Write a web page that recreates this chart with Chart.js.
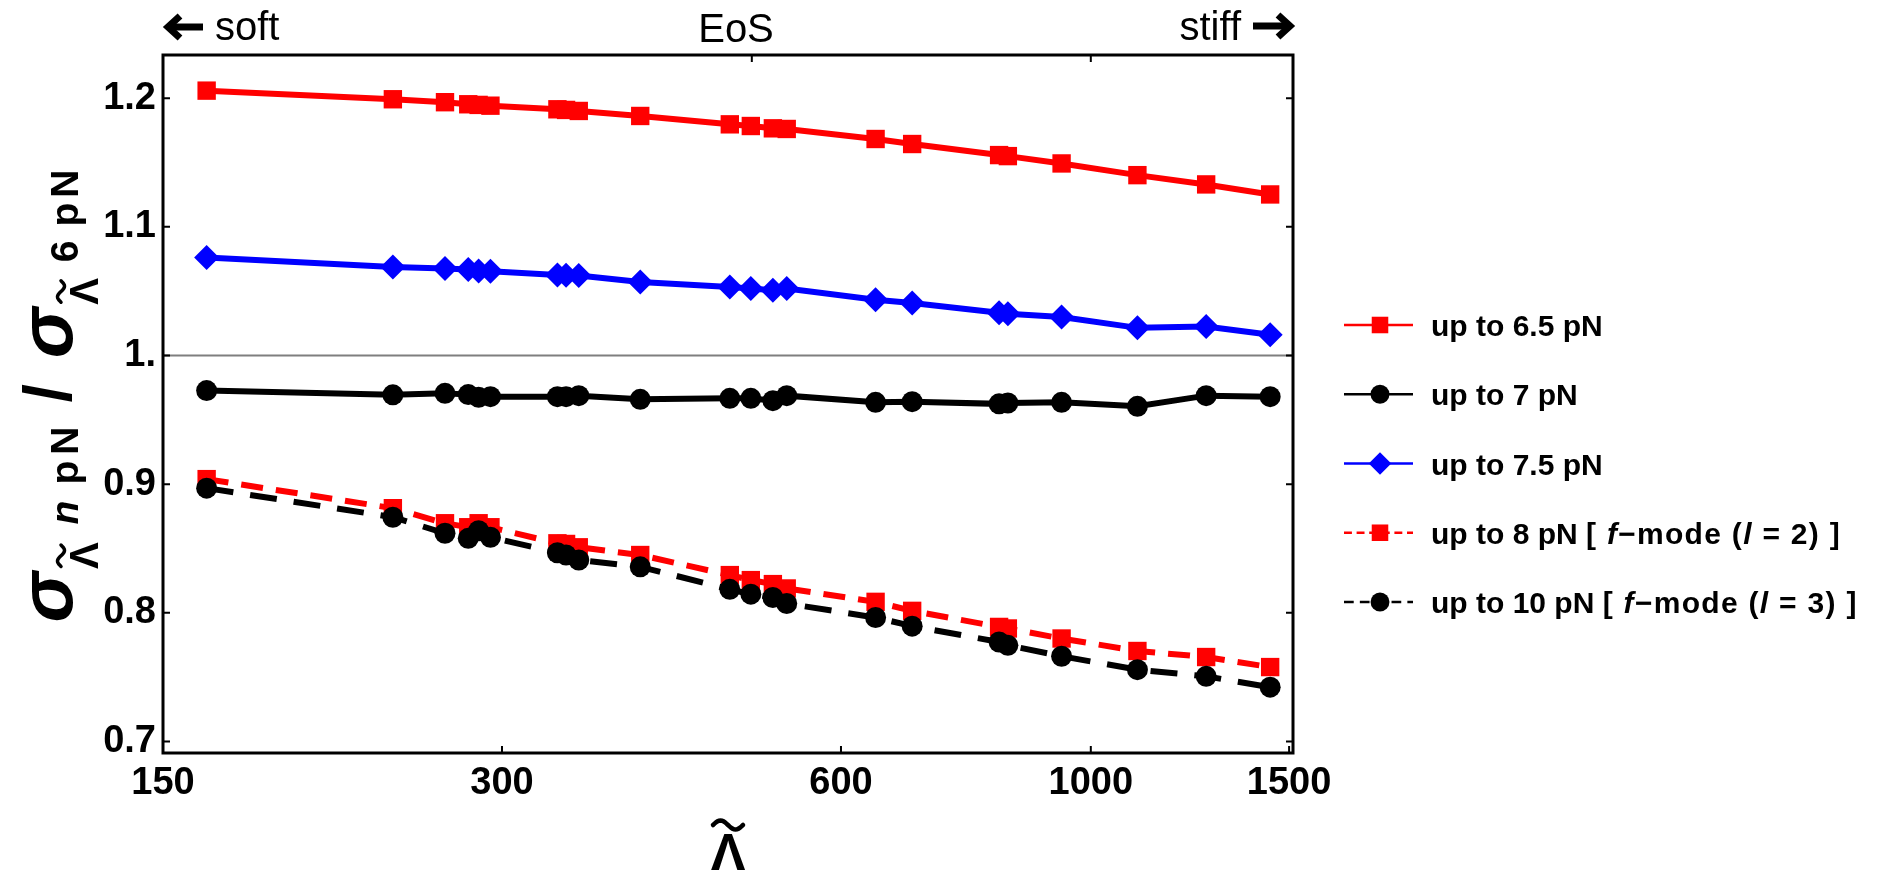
<!DOCTYPE html>
<html>
<head>
<meta charset="utf-8">
<script src="https://cdn.jsdelivr.net/npm/chart.js@4.4.1/dist/chart.umd.min.js"></script>
<style>
  html, body { margin: 0; padding: 0; background: #fff; }
  #wrap { width: 1893px; height: 876px; }
</style>
</head>
<body>
<div id="wrap"><canvas id="chart"></canvas></div>
<script>
// Data (x axis is log scale)
const lambdaVals = [164, 240, 267, 280, 286, 293, 336, 342, 351, 398, 478, 499, 522, 537, 644, 694, 829, 844, 942, 1100, 1266, 1443];
const upTo65 = [1.2059, 1.1992, 1.1969, 1.1953, 1.1948, 1.1942, 1.1914, 1.1909, 1.1901, 1.1862, 1.1797, 1.1784, 1.1766, 1.1761, 1.1683, 1.1644, 1.1558, 1.1550, 1.1493, 1.1402, 1.1330, 1.1252];
const upTo7 = [0.9727, 0.9694, 0.9706, 0.9696, 0.9675, 0.9680, 0.9680, 0.9680, 0.9688, 0.9659, 0.9667, 0.9667, 0.9649, 0.9688, 0.9636, 0.9641, 0.9624, 0.9631, 0.9636, 0.9605, 0.9688, 0.9680];
const upTo75 = [1.0762, 1.0688, 1.0676, 1.0668, 1.0657, 1.0655, 1.0626, 1.0624, 1.0622, 1.0571, 1.0532, 1.0520, 1.0507, 1.0520, 1.0434, 1.0408, 1.0333, 1.0325, 1.0299, 1.0215, 1.0226, 1.0161];
const upTo8 = [0.9039, 0.8813, 0.8696, 0.8665, 0.8696, 0.8665, 0.8540, 0.8535, 0.8509, 0.8449, 0.8293, 0.8254, 0.8223, 0.8189, 0.8085, 0.8015, 0.7890, 0.7878, 0.7800, 0.7703, 0.7656, 0.7578];
const upTo10 = [0.8969, 0.8743, 0.8618, 0.8579, 0.8638, 0.8587, 0.8467, 0.8449, 0.8410, 0.8357, 0.8182, 0.8145, 0.8119, 0.8072, 0.7963, 0.7896, 0.7773, 0.7747, 0.7662, 0.7558, 0.7506, 0.7422];

const seriesLabels = ['up to 6.5 pN', 'up to 7 pN', 'up to 7.5 pN', 'up to 8 pN [ f\u2212mode (l = 2) ]', 'up to 10 pN [ f\u2212mode (l = 3) ]'];
const xTicks = [150, 300, 600, 1000, 1500];
const xTopTicks = [500, 1000];
const yTicks = [0.7, 0.8, 0.9, 1.0, 1.1, 1.2];
const refLine = 1.0;

const FONT = "'Liberation Sans', Arial, Helvetica, sans-serif";

function pts(ys) {
    return ys.map((y, i) => ({ x: lambdaVals[i], y: y }));
}

function series(label, ys, color, style, radius, dash, order) {
    return {
        label: label,
        data: pts(ys),
        borderColor: color,
        backgroundColor: color,
        pointBackgroundColor: color,
        pointBorderColor: color,
        pointBorderWidth: 0,
        pointStyle: style,
        pointRadius: radius,
        borderWidth: 6,
        borderDash: dash,
        tension: 0,
        order: order
    };
}

const datasets = [
    series(seriesLabels[0], upTo65, '#ff0000', 'rect', 13, [], 4),
    series(seriesLabels[1], upTo7, '#000000', 'circle', 10.5, [], 3),
    series(seriesLabels[2], upTo75, '#0000ff', 'rectRot', 12.5, [], 2),
    series(seriesLabels[3], upTo8, '#ff0000', 'rect', 13, [22, 13], 1),
    series(seriesLabels[4], upTo10, '#000000', 'circle', 10.5, [27, 17], 0)
];

function drawTilde(ctx, cx, cy, w, amp, lw) {
    ctx.save();
    ctx.lineWidth = lw;
    ctx.lineCap = 'round';
    ctx.beginPath();
    for (let t = 0; t <= 1.0001; t += 0.05) {
        const px = cx - w / 2 + t * w;
        const py = cy - amp * Math.sin(2 * Math.PI * t);
        if (t === 0) ctx.moveTo(px, py); else ctx.lineTo(px, py);
    }
    ctx.stroke();
    ctx.restore();
}

function drawYLabel(ctx, cx, cy) {
    const sig = 'italic bold 76px ' + FONT;
    const lam = 'bold 40px ' + FONT;
    const txt = 'bold 39px ' + FONT;
    const txtIt = 'italic bold 39px ' + FONT;
    const parts = [
        { t: '\u03C3', f: sig, dy: 0, gap: 0 },
        { t: '\u039B', f: lam, dy: 26, gap: 3, tilde: true },
        { t: 'n', f: txtIt, dy: 6, gap: 18 },
        { t: 'p', f: txt, dy: 6, gap: 16 },
        { t: 'N', f: txt, dy: 6, gap: 6 },
        { t: '/', f: 'bold 66px ' + FONT, dy: -2, gap: 24 },
        { t: '\u03C3', f: sig, dy: 0, gap: 26 },
        { t: '\u039B', f: lam, dy: 26, gap: 3, tilde: true },
        { t: '6', f: txt, dy: 6, gap: 16 },
        { t: 'p', f: txt, dy: 6, gap: 14 },
        { t: 'N', f: txt, dy: 6, gap: 5 }
    ];
    ctx.save();
    let total = 0;
    parts.forEach(p => { ctx.font = p.f; p.w = ctx.measureText(p.t).width; total += p.gap + p.w; });
    ctx.translate(cx, cy);
    ctx.rotate(-Math.PI / 2);
    ctx.fillStyle = '#000';
    ctx.strokeStyle = '#000';
    ctx.textBaseline = 'alphabetic';
    ctx.textAlign = 'left';
    let x = -total / 2;
    parts.forEach(p => {
        x += p.gap;
        ctx.font = p.f;
        ctx.fillText(p.t, x, p.dy);
        if (p.tilde) drawTilde(ctx, x + p.w / 2, p.dy - 37, p.w * 0.8, 3.5, 3.5);
        x += p.w;
    });
    ctx.restore();
}

function drawArrow(ctx, x0, x1, y, dir) {
    // dir = -1 points left, 1 points right
    const tip = dir < 0 ? x0 : x1;
    const tail = dir < 0 ? x1 : x0;
    ctx.save();
    ctx.strokeStyle = '#000';
    ctx.lineWidth = 7;
    ctx.lineJoin = 'miter';
    ctx.beginPath();
    ctx.moveTo(tail, y);
    ctx.lineTo(tip - dir * 4, y);
    ctx.stroke();
    ctx.beginPath();
    ctx.moveTo(tip - dir * 12, y - 11);
    ctx.lineTo(tip, y);
    ctx.lineTo(tip - dir * 12, y + 11);
    ctx.stroke();
    ctx.restore();
}

function legendPieces(label) {
    const k = label.indexOf('[');
    const head = k < 0 ? label : label.slice(0, k);
    const tail = k < 0 ? '' : label.slice(k);
    const out = [{ t: head, it: false, sp: 0 }];
    tail.split(/(\bf(?=\u2212)|\bl(?= =))/).filter(s => s.length).forEach(s => {
        out.push({ t: s, it: (s === 'f' || s === 'l'), sp: 1.3 });
    });
    return out;
}

const decor = {
    id: 'decor',
    beforeDatasetsDraw(chart) {
        const { ctx, chartArea: a, scales } = chart;
        const py = scales.y.getPixelForValue(refLine);
        ctx.save();
        ctx.strokeStyle = '#7f7f7f';
        ctx.lineWidth = 2;
        ctx.beginPath();
        ctx.moveTo(a.left, py);
        ctx.lineTo(a.right, py);
        ctx.stroke();
        ctx.restore();
    },
    afterDatasetsDraw(chart) {
        const { ctx, chartArea: a, scales } = chart;
        const tl = 7;
        ctx.save();
        ctx.strokeStyle = '#000';
        ctx.lineWidth = 2;
        ctx.beginPath();
        xTicks.forEach(v => {
            const px = scales.x.getPixelForValue(v);
            ctx.moveTo(px, a.bottom); ctx.lineTo(px, a.bottom - tl);
        });
        xTopTicks.forEach(v => {
            const px = scales.x.getPixelForValue(v);
            ctx.moveTo(px, a.top); ctx.lineTo(px, a.top + tl);
        });
        yTicks.forEach(v => {
            const py = scales.y.getPixelForValue(v);
            ctx.moveTo(a.left, py); ctx.lineTo(a.left + tl, py);
            ctx.moveTo(a.right, py); ctx.lineTo(a.right - tl, py);
        });
        ctx.stroke();
        ctx.lineWidth = 3;
        ctx.strokeRect(a.left, a.top, a.right - a.left, a.bottom - a.top);
        ctx.restore();
    },
    afterDraw(chart) {
        const { ctx, chartArea: a } = chart;
        ctx.save();
        ctx.fillStyle = '#000';

        // top annotations
        ctx.font = '40px ' + FONT;
        ctx.textBaseline = 'alphabetic';
        ctx.textAlign = 'center';
        ctx.fillText('EoS', (a.left + a.right) / 2 + 8, 42);
        ctx.textAlign = 'left';
        ctx.fillText('soft', a.left + 52, 40);
        drawArrow(ctx, a.left + 5, a.left + 40, 27, -1);
        ctx.textAlign = 'right';
        ctx.fillText('stiff', a.right - 52, 40);
        drawArrow(ctx, a.right - 40, a.right - 3, 26, 1);

        // x axis title
        ctx.font = 'bold 52px ' + FONT;
        ctx.textAlign = 'center';
        const cx = (a.left + a.right) / 2;
        ctx.fillText('\u039B', cx, 870);
        drawTilde(ctx, cx, 825, 30, 4.5, 4.5);

        // y axis title
        drawYLabel(ctx, 72, 396);

        // legend
        const lx0 = 1344, lx1 = 1413, mx = 1380, tx = 1431;
        const row0 = 325, rowGap = 69.25;
        datasets.forEach((ds, i) => {
            const y = row0 + i * rowGap;
            ctx.save();
            ctx.strokeStyle = ds.borderColor;
            ctx.lineWidth = 2.5;
            ctx.setLineDash(ds.borderDash.length ? [ds.borderDash[0] * 0.36, ds.borderDash[1] * 0.36] : []);
            ctx.beginPath();
            ctx.moveTo(lx0, y); ctx.lineTo(lx1, y);
            ctx.stroke();
            ctx.setLineDash([]);
            ctx.fillStyle = ds.pointBackgroundColor;
            Chart.helpers.drawPoint(ctx, { pointStyle: ds.pointStyle, radius: ds.pointRadius * 0.9, rotation: 0, borderWidth: 0 }, mx, y);
            ctx.restore();

            let x = tx;
            ctx.textAlign = 'left';
            legendPieces(ds.label).forEach(p => {
                ctx.font = (p.it ? 'italic ' : '') + 'bold 30px ' + FONT;
                ctx.letterSpacing = p.sp + 'px';
                ctx.fillText(p.t, x, y + 11);
                x += ctx.measureText(p.t).width;
            });
            ctx.letterSpacing = '0px';
        });
        ctx.restore();
    }
};

new Chart(document.getElementById('chart'), {
    type: 'line',
    data: { datasets: datasets },
    options: {
        responsive: true,
        maintainAspectRatio: false,
        animation: false,
        layout: { padding: { left: 0, right: 600, top: 55, bottom: 0 } },
        plugins: { legend: { display: false }, tooltip: { enabled: false } },
        scales: {
            x: {
                type: 'logarithmic',
                min: 150,
                max: 1512,
                afterBuildTicks: s => { s.ticks = xTicks.map(v => ({ value: v })); },
                afterFit: s => { s.height = 123; },
                grid: { display: false, drawTicks: false },
                border: { display: false },
                ticks: {
                    autoSkip: false,
                    maxRotation: 0,
                    padding: 8,
                    color: '#000',
                    font: { family: FONT, size: 38, weight: 'bold' },
                    callback: v => String(v)
                }
            },
            y: {
                type: 'linear',
                min: 0.691,
                max: 1.2336,
                afterBuildTicks: s => { s.ticks = yTicks.map(v => ({ value: v })); },
                afterFit: s => { s.width = 163; },
                grid: { display: false, drawTicks: false },
                border: { display: false },
                ticks: {
                    padding: 7,
                    color: '#000',
                    font: { family: FONT, size: 38, weight: 'bold' },
                    callback: v => (Math.abs(v - 1) < 1e-9 ? '1.' : v.toFixed(1))
                }
            }
        }
    },
    plugins: [decor]
});
</script>
</body>
</html>
